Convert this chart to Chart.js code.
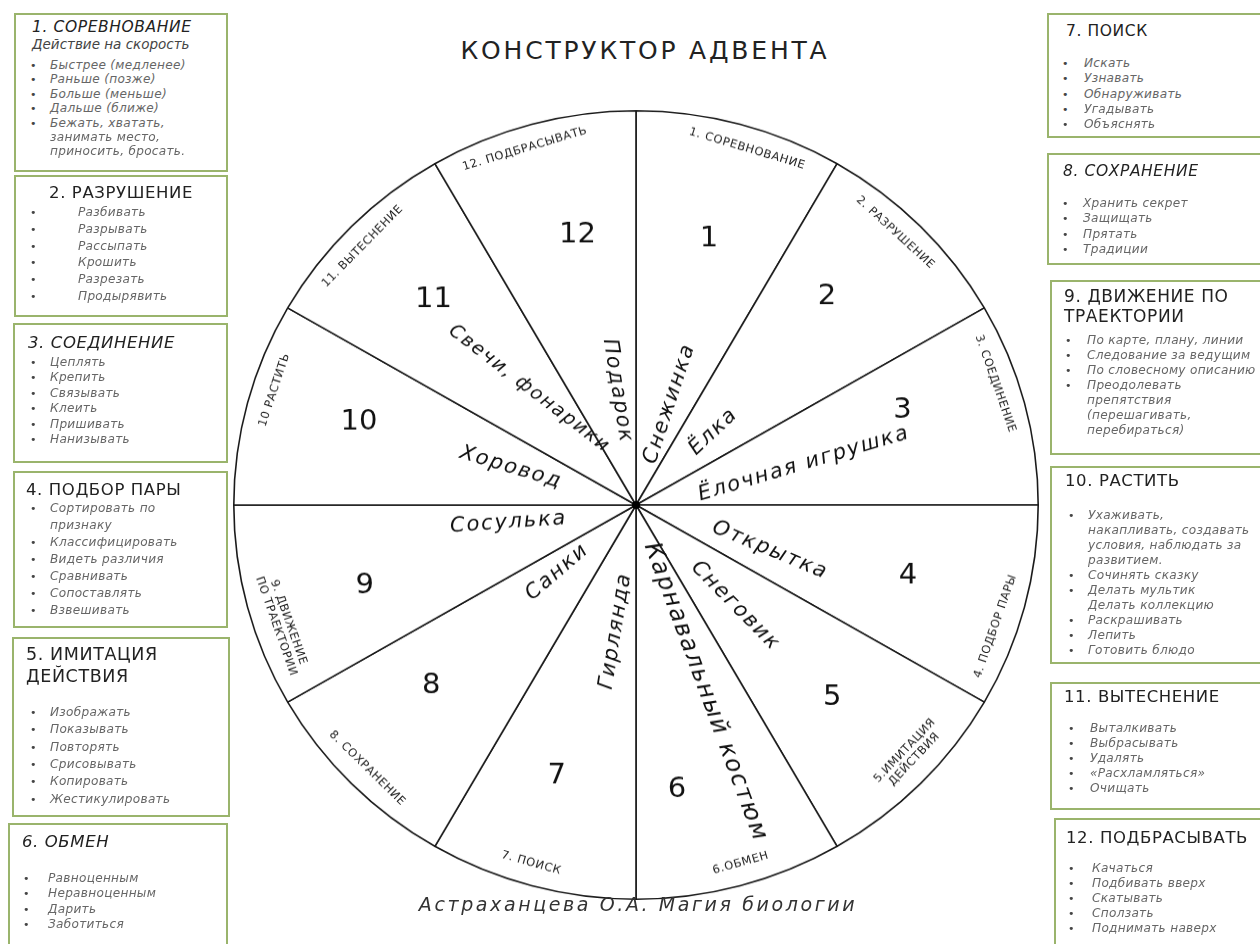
<!DOCTYPE html>
<html><head><meta charset="utf-8">
<script src="https://cdn.jsdelivr.net/npm/chart.js@4.4.0/dist/chart.umd.min.js"></script>
<style>
html,body{margin:0;padding:0;background:#fff;}
body{width:1260px;height:944px;position:relative;overflow:hidden;font-family:"DejaVu Sans",sans-serif;}
.box{position:absolute;border:2px solid #9ab46c;box-sizing:border-box;background:#fff;}
.ln{position:absolute;white-space:nowrap;line-height:1;transform:translateY(-50%);}
.tt{color:#222;}
.it{font-style:italic;color:#666;font-size:12.1px;letter-spacing:0.3px;}
.bu{color:#444;font-size:11px;}
#title{position:absolute;left:0;width:1290px;top:36px;text-align:center;font-size:25px;letter-spacing:2.8px;color:#222;}
#author{position:absolute;left:0;width:1276px;top:893px;text-align:center;font-size:19px;font-style:italic;letter-spacing:2.6px;color:#333;}
#wrap{position:absolute;left:231px;top:100px;width:810px;height:810px;transform:scaleY(0.98);transform-origin:50% 50%;}
</style></head>
<body>
<div id="title">КОНСТРУКТОР АДВЕНТА</div>
<div id="wrap"><canvas id="c" width="810" height="810"></canvas></div>
<div id="author">Астраханцева О.А. Магия биологии</div>
<script>
// ---- chart data ----
const categories = ["1. СОРЕВНОВАНИЕ","2. РАЗРУШЕНИЕ","3. СОЕДИНЕНИЕ","4. ПОДБОР ПАРЫ","5.ИМИТАЦИЯ\nДЕЙСТВИЯ","6.ОБМЕН","7. ПОИСК","8. СОХРАНЕНИЕ","9. ДВИЖЕНИЕ\nПО ТРАЕКТОРИИ","10 РАСТИТЬ","11. ВЫТЕСНЕНИЕ","12. ПОДБРАСЫВАТЬ"];
const sliceValues = [1,1,1,1,1,1,1,1,1,1,1,1];
const sliceNumbers = ["1","2","3","4","5","6","7","8","9","10","11","12"];
const sliceNames = ["Снежинка","Ёлка","Ёлочная игрушка","Открытка","Снеговик","Карнавальный костюм","Гирлянда","Санки","Сосулька","Хоровод","Свечи, фонарики","Подарок"];

// ---- side boxes (text content + layout) ----
const boxes = [
 {l:14,t:13,r:228,b:172,title:["1. СОРЕВНОВАНИЕ"],ti:true,tx:32,ty:28,ts:15.5,sub:"Действие на скорость",sy:45,
  items:["Быстрее (медленее)","Раньше (позже)","Больше (меньше)","Дальше (ближе)","Бежать, хватать,|занимать место,|приносить, бросать."],iy:65,lh:14.4,bx:30,tx2:50},
 {l:14,t:175,r:228,b:317,title:["2. РАЗРУШЕНИЕ"],ti:false,tx:'c',ty:193,ts:16.5,
  items:["Разбивать","Разрывать","Рассыпать","Крошить","Разрезать","Продырявить"],iy:212,lh:16.8,bx:30,tx2:78},
 {l:13,t:323,r:228,b:463,title:["3. СОЕДИНЕНИЕ"],ti:true,tx:28,ty:343,ts:16.5,
  items:["Цеплять","Крепить","Связывать","Клеить","Пришивать","Нанизывать"],iy:362,lh:15.4,bx:30,tx2:50},
 {l:13,t:471,r:228,b:628,title:["4. ПОДБОР ПАРЫ"],ti:false,tx:26,ty:490,ts:16.5,
  items:["Сортировать по|признаку","Классифицировать","Видеть различия","Сравнивать","Сопоставлять","Взвешивать"],iy:508,lh:17,bx:30,tx2:50},
 {l:12,t:637,r:230,b:817,title:["5. ИМИТАЦИЯ","ДЕЙСТВИЯ"],ti:false,tx:26,ty:655,tl:22,ts:17.5,
  items:["Изображать","Показывать","Повторять","Срисовывать","Копировать","Жестикулировать"],iy:712,lh:17.3,bx:30,tx2:50},
 {l:8,t:823,r:228,b:960,title:["6. ОБМЕН"],ti:true,tx:22,ty:842,ts:16.5,
  items:["Равноценным","Неравноценным","Дарить","Заботиться"],iy:878,lh:15.4,bx:23,tx2:48},
 {l:1047,t:13,r:1266,b:138,title:["7. ПОИСК"],ti:false,tx:1066,ty:32,ts:15.5,
  items:["Искать","Узнавать","Обнаруживать","Угадывать","Объяснять"],iy:63,lh:15.3,bx:1062,tx2:1084},
 {l:1047,t:153,r:1266,b:265,title:["8. СОХРАНЕНИЕ"],ti:true,tx:1063,ty:172,ts:15.5,
  items:["Хранить секрет","Защищать","Прятать","Традиции"],iy:203,lh:15.3,bx:1062,tx2:1083},
 {l:1050,t:280,r:1266,b:455,title:["9. ДВИЖЕНИЕ ПО","ТРАЕКТОРИИ"],ti:false,tx:1064,ty:296,tl:20,ts:17,
  items:["По карте, плану, линии","Следование за ведущим","По словесному описанию","Преодолевать|препятствия|(перешагивать,|перебираться)"],iy:340,lh:15,bx:1065,tx2:1087},
 {l:1050,t:466,r:1266,b:664,title:["10. РАСТИТЬ"],ti:false,tx:1065,ty:481,ts:16.5,
  items:["Ухаживать,|накапливать, создавать|условия, наблюдать за|развитием.","Сочинять сказку","Делать мультик|Делать коллекцию","Раскрашивать","Лепить","Готовить блюдо"],iy:515,lh:15,bx:1068,tx2:1088},
 {l:1050,t:682,r:1266,b:810,title:["11. ВЫТЕСНЕНИЕ"],ti:false,tx:1064,ty:697,ts:16.5,
  items:["Выталкивать","Выбрасывать","Удалять","«Расхламляться»","Очищать"],iy:728,lh:15,bx:1068,tx2:1090},
 {l:1054,t:818,r:1266,b:960,title:["12. ПОДБРАСЫВАТЬ"],ti:false,tx:1066,ty:838,ts:16.5,
  items:["Качаться","Подбивать вверх","Скатывать","Сползать","Поднимать наверх"],iy:868,lh:15,bx:1068,tx2:1092}
];
boxes.forEach(B=>{
  const d=document.createElement('div'); d.className='box';
  d.style.cssText=`left:${B.l}px;top:${B.t}px;width:${B.r-B.l}px;height:${B.b-B.t}px;`;
  document.body.appendChild(d);
});
function addLine(txt,cls,x,y,extra){
  const s=document.createElement('div'); s.className='ln '+cls; s.textContent=txt;
  s.style.left=x+'px'; s.style.top=y+'px'; if(extra) Object.assign(s.style,extra);
  document.body.appendChild(s); return s;
}
boxes.forEach(B=>{
  B.title.forEach((t,k)=>{
    const st={fontSize:B.ts+'px',fontStyle:B.ti?'italic':'normal',letterSpacing:'0.6px'};
    const y=B.ty+k*(B.tl||20);
    if(B.tx==='c'){ st.width=(B.r-B.l)+'px'; st.textAlign='center'; addLine(t,'tt',B.l,y,st);} 
    else addLine(t,'tt',B.tx,y,st);
  });
  if(B.sub) addLine(B.sub,'tt',B.tx,B.sy,{fontSize:'13.5px',fontStyle:'italic',color:'#444'});
  let y=B.iy;
  B.items.forEach(it=>{
    const parts=it.split('|');
    addLine('•','bu',B.bx,y);
    parts.forEach(p=>{ addLine(p,'it',B.tx2,y); y+=B.lh; });
  });
});

// ---- slice labels plugin (layout tweaks only) ----
const numAngleShift  = [0,-3,-5,0,0,7,1,3,-2,2,1,3];      // degrees
const numRadius      = [0.70,0.71,0.705,0.70,0.69,0.73,0.715,0.685,0.705,0.72,0.725,0.70];
const labAngleShift  = [2,-2,-4,4,-2,-1,1,0,-4,3,-1,-2];  // degrees
const nameAngleShift = [3,1,1,4,1,-5,-6,4,7,2,3,6];       // degrees
const nameRotShift   = [0,0,-3,4,0,0,0,0,4,0,-10,0];      // degrees
const nameGap  = [45,78,63,80,84,42,70,66,70,78,60,64];   // px from centre to text start
const nameSize = [21,21,21,21,21,24,21,21,21,21,19,21];
const D=Math.PI/180;
const sliceText = {
  id:'sliceText',
  afterDatasetsDraw(chart){
    const ctx=chart.ctx, meta=chart.getDatasetMeta(0);
    meta.data.forEach((arc,i)=>{
      const p=arc.getProps(['x','y','startAngle','endAngle','outerRadius'],true);
      const mid=(p.startAngle+p.endAngle)/2, R=p.outerRadius;
      ctx.save();
      ctx.fillStyle='#111'; ctx.textAlign='center'; ctx.textBaseline='middle';
      ctx.font='29px "DejaVu Sans"';
      const na=mid+numAngleShift[i]*D, nr=R*numRadius[i];
      ctx.fillText(sliceNumbers[i], p.x+Math.cos(na)*nr, p.y+Math.sin(na)*nr);
      const lines=categories[i].split('\n');
      const la=mid+labAngleShift[i]*D;
      const top=Math.sin(mid)<0;
      const rr=R*(lines.length>1?0.93:0.945);
      ctx.save();
      ctx.translate(p.x+Math.cos(la)*rr, p.y+Math.sin(la)*rr);
      ctx.rotate(top? la+Math.PI/2 : la-Math.PI/2);
      ctx.font='11.5px "DejaVu Sans"'; ctx.fillStyle='#222';
      ctx.letterSpacing='0.6px';
      lines.forEach((ln,k)=>ctx.fillText(ln,0,(k-(lines.length-1)/2)*13));
      ctx.restore();
      const a=mid+nameAngleShift[i]*D;
      ctx.save();
      ctx.font='italic '+nameSize[i]+'px "DejaVu Sans"'; ctx.letterSpacing='1.8px'; ctx.fillStyle='#111';
      const w=ctx.measureText(sliceNames[i]).width;
      const rn=nameGap[i]+w/2;
      ctx.translate(p.x+Math.cos(a)*rn, p.y+Math.sin(a)*rn);
      ctx.rotate((Math.cos(a)>=0? a : a+Math.PI)+nameRotShift[i]*D);
      ctx.fillText(sliceNames[i],0,0);
      ctx.restore();
      ctx.restore();
    });
    const p0=meta.data[0];
    ctx.save(); ctx.fillStyle='#000'; ctx.beginPath(); ctx.arc(p0.x,p0.y,4,0,Math.PI*2); ctx.fill(); ctx.restore();
  }
};

new Chart(document.getElementById('c'),{
  type:'pie',
  data:{labels:categories,datasets:[{data:sliceValues,backgroundColor:'#ffffff',borderColor:'#1a1a1a',borderWidth:1.6,hoverOffset:0}]},
  options:{responsive:false,animation:false,layout:{padding:2},
    plugins:{legend:{display:false},tooltip:{enabled:false}}},
  plugins:[sliceText]
});
</script>
</body></html>
